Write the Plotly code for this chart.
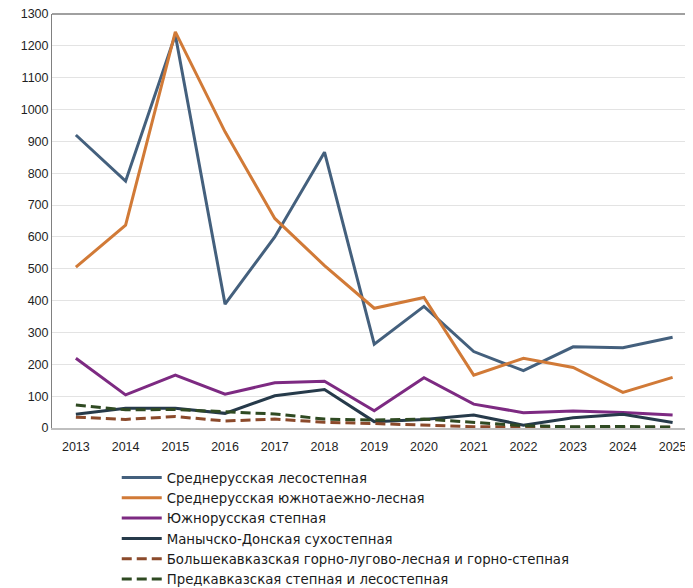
import plotly.graph_objects as go

years = list(range(2013, 2026))
names = [
    "Среднерусская лесостепная",
    "Среднерусская южнотаежно-лесная",
    "Южнорусская степная",
    "Манычско-Донская сухостепная",
    "Большекавказская горно-лугово-лесная и горно-степная",
    "Предкавказская степная и лесостепная",
]
s1 = [920, 775, 1234, 389, 600, 866, 263, 382, 240, 180, 255, 252, 285]
s2 = [505, 637, 1244, 930, 658, 510, 376, 410, 166, 219, 190, 112, 159]
s3 = [219, 104, 166, 106, 142, 147, 54, 158, 75, 48, 53, 49, 41]
s4 = [43, 62, 62, 46, 101, 121, 20, 27, 41, 9, 32, 43, 17]
s5 = [34, 27, 36, 22, 28, 18, 14, 10, 4, 3, 2, 2, 2]
s6 = [72, 57, 58, 51, 44, 28, 25, 28, 17, 7, 4, 5, 3]
series = [s1, s2, s3, s4, s5, s6]
colors = ["#44607d", "#d17a37", "#7d2a82", "#263a4a", "#8b4a2b", "#2f4a22"]
dashes = ["solid", "solid", "solid", "solid", "10px,5px", "10px,5px"]
yticks = list(range(0, 1301, 100))

fig = go.Figure()
for n, s, c, d in zip(names, series, colors, dashes):
    fig.add_trace(go.Scatter(x=years, y=s, name=n, mode="lines",
                             line=dict(color=c, width=3, dash=d)))

tick_font = dict(size=12.5, family="Liberation Sans, Arial, sans-serif", color="#1f1f1f")

fig.update_layout(
    width=685, height=580,
    margin=dict(l=44, r=0, t=6, b=160, autoexpand=False),
    paper_bgcolor="white", plot_bgcolor="white",
    font=dict(family="Liberation Sans, Arial, sans-serif", color="#1a1a1a"),
    legend=dict(x=0.101, y=-0.083, xanchor="left", yanchor="top",
                font=dict(size=13.3, family="DejaVu Sans", color="#1a1a1a"),
                itemwidth=40, tracegroupgap=0),
)
fig.update_xaxes(range=[2012.52, 2025.41], tickmode="array", tickvals=years,
                 ticktext=[str(y) for y in years], showgrid=False,
                 showline=True, linecolor="#bfbfbf", linewidth=1.5,
                 tickfont=tick_font, ticks="", automargin=False,
                 ticklabeloverflow="allow", ticklabelstandoff=6)
fig.update_yaxes(range=[0, 1300], tickmode="array", tickvals=yticks,
                 showgrid=True, gridcolor="#e3e3e3", gridwidth=1,
                 showline=True, linecolor="#808080", linewidth=1,
                 tickfont=tick_font, zeroline=False, automargin=False,
                 ticklabeloverflow="allow")
fig.add_shape(type="line", xref="paper", yref="paper", x0=0, x1=1, y0=1, y1=1,
              line=dict(color="#808080", width=1.5))
fig.write_html("out.html")
